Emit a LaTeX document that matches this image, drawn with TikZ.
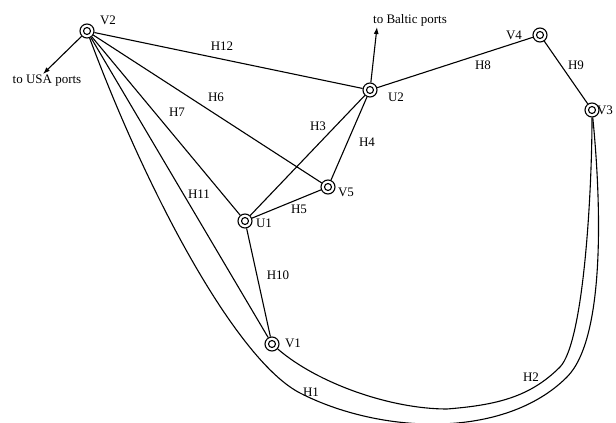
\documentclass[tikz,border=0pt]{standalone}
\usepackage{fontspec}
\setmainfont{Liberation Serif}
\usetikzlibrary{arrows.meta}
\begin{document}
\begin{tikzpicture}[x=1pt,y=-1pt,
  port/.style={circle,draw,line width=1.1pt,minimum size=14pt,inner sep=0pt,fill=white,
    path picture={\draw[line width=1.1pt] (path picture bounding box.center) circle (3.5pt);}},
  lbl/.style={font=\fontsize{13}{15}\selectfont,inner sep=0pt},
  route/.style={line width=1.1pt},
  outlet/.style={line width=1.1pt,-{Latex[length=7pt,width=5pt]}}]
\useasboundingbox (0,0) rectangle (616,423);

% ports and hubs
\node[port] (V2) at (87,31) {};
\node[port] (U2) at (370,90) {};
\node[port] (V4) at (540,35) {};
\node[port] (V3) at (592,110) {};
\node[port] (V5) at (328,187) {};
\node[port] (U1) at (245,221) {};
\node[port] (V1) at (272,344) {};

% node names
\node[lbl] (tV2) at (108,20) {V2};
\node[lbl] (tU2) at (396,97) {U2};
\node[lbl] (tV4) at (514,35) {V4};
\node[lbl] (tV3) at (605,110) {V3};
\node[lbl] (tV5) at (346,192) {V5};
\node[lbl] (tU1) at (264,223) {U1};
\node[lbl] (tV1) at (293,343) {V1};

% straight routes
\draw[route] (V2) -- (U2);
\draw[route] (V2) -- (V5);
\draw[route] (V2) -- (U1);
\draw[route] (V2) -- (V1);
\draw[route] (U1) -- (U2);
\draw[route] (U2) -- (V5);
\draw[route] (U1) -- (V5);
\draw[route] (U1) -- (V1);
\draw[route] (U2) -- (V4);
\draw[route] (V4) -- (V3);

% long sea routes around the south
\coordinate (h1a) at (300,393);
\coordinate (h1b) at (567,377);
\draw[route] (V2) .. controls (150,200) and (238,361) .. (h1a)
  .. controls (380,434) and (504,440) .. (h1b)
  .. controls (606,338) and (601,200) .. (V3);
\coordinate (h2a) at (447,409);
\coordinate (h2b) at (560,367);
\draw[route] (V1) .. controls (317,383) and (390,409) .. (h2a)
  .. controls (497,405) and (530,397) .. (h2b)
  .. controls (584,342) and (592,190) .. (V3);

% outlets
\node[lbl] (usa) at (47,81) {to USA ports};
\coordinate (usaend) at (43,74);
\draw[outlet] (V2) -- (usaend);
\node[lbl] (baltic) at (410,20) {to Baltic ports};
\coordinate (balend) at (377,27);
\draw[outlet] (U2) -- (balend);

% route names
\node[lbl] (H12) at (222,46) {H12};
\node[lbl] (H6) at (216,97) {H6};
\node[lbl] (H7) at (177,112) {H7};
\node[lbl] (H11) at (199,194) {H11};
\node[lbl] (H3) at (318,126) {H3};
\node[lbl] (H4) at (367,142) {H4};
\node[lbl] (H5) at (299,209) {H5};
\node[lbl] (H10) at (278,275) {H10};
\node[lbl] (H8) at (483,65) {H8};
\node[lbl] (H9) at (576,65) {H9};
\node[lbl] (H1) at (311,392) {H1};
\node[lbl] (H2) at (531,377) {H2};
\end{tikzpicture}
\end{document}
